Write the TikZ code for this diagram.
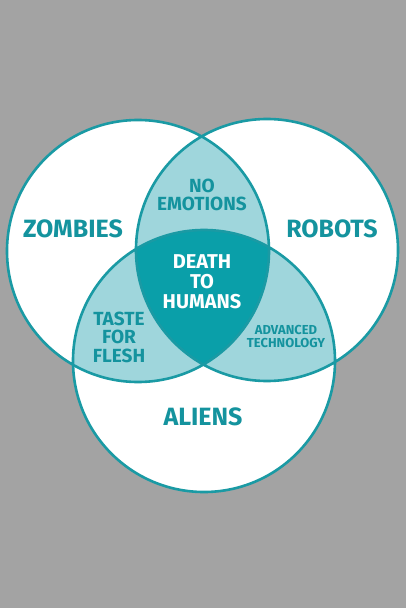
\documentclass[tikz,border=0pt]{standalone}
\usepackage{fontspec}
\setmainfont{Fira Sans}
\definecolor{bg}{HTML}{A3A3A3}
\definecolor{rim}{HTML}{1A9AA4}
\definecolor{light}{HTML}{9FD6DC}
\definecolor{dark}{HTML}{0A9FA9}
\definecolor{ink}{HTML}{14939E}
\begin{document}
\begin{tikzpicture}[x=1pt,y=-1pt,
  big/.style={font=\bfseries\fontsize{25}{25}\selectfont,text=ink,inner sep=0pt},
  mid/.style={font=\bfseries\fontsize{19}{18.5}\selectfont,text=ink,align=center,inner sep=0pt},
  small/.style={font=\bfseries\fontsize{13}{13}\selectfont,text=ink,align=center,inner sep=0pt}]
\fill[bg] (0,0) rectangle (406,608);
\coordinate (Z) at (138,251);
\coordinate (R) at (267,250);
\coordinate (A) at (204,361);
\def\rr{131}
\fill[white] (Z) circle (\rr) (R) circle (\rr) (A) circle (\rr);
\begin{scope}\clip (Z) circle (\rr); \fill[light] (R) circle (\rr); \fill[light] (A) circle (\rr);\end{scope}
\begin{scope}\clip (R) circle (\rr); \fill[light] (A) circle (\rr);\end{scope}
\begin{scope}\clip (Z) circle (\rr); \clip (R) circle (\rr); \fill[dark] (A) circle (\rr);\end{scope}
\draw[rim,line width=2.6pt] (Z) circle (\rr) (R) circle (\rr) (A) circle (\rr);
\node[big] (zombies) at (73,229) {ZOMBIES};
\node[big] (robots) at (332,229) {ROBOTS};
\node[big] (aliens) at (203,417) {ALIENS};
\node[mid] (noemo) at (202,195) {NO\\EMOTIONS};
\node[mid,text=white,font=\bfseries\fontsize{20}{20}\selectfont] (death) at (202,282) {DEATH\\TO\\HUMANS};
\node[mid] (taste) at (119,337) {TASTE\\FOR\\FLESH};
\node[small] (adv) at (286,336) {ADVANCED\\TECHNOLOGY};
\end{tikzpicture}
\end{document}
